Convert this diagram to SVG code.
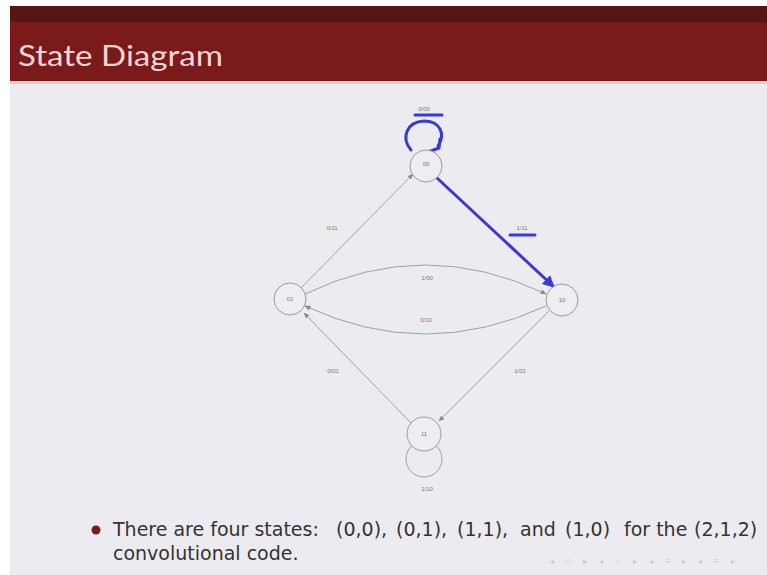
<svg xmlns="http://www.w3.org/2000/svg" width="767" height="575" viewBox="0 0 767 575">
<defs>
<style>
.node{fill:#eeeef2;stroke:#999;stroke-width:1}
.edge{fill:none;stroke:#a0a0a0;stroke-width:1}
.lbl{font-family:"Liberation Sans",Arial,sans-serif;font-size:6px;fill:#777;text-anchor:middle}
.blue{fill:none;stroke:#3a3ad0;stroke-width:3;stroke-linecap:round;stroke-linejoin:round}
.body{font-family:"DejaVu Sans","Liberation Sans",sans-serif;font-size:19px;fill:#333}
</style>
<marker id="ah" viewBox="0 0 10 10" refX="9" refY="5" markerWidth="6" markerHeight="6" orient="auto"><path d="M0,1 L10,5 L0,9 z" fill="#888"/></marker>
<marker id="bh" viewBox="0 0 10 10" refX="8" refY="5" markerWidth="4" markerHeight="4" orient="auto"><path d="M0,0 L10,5 L0,10 z" fill="#3a3ad0"/></marker>
</defs>
<rect width="767" height="575" fill="#ffffff"/>
<rect x="10" y="6" width="757" height="569" fill="#ececf0"/>
<rect x="10" y="6" width="757" height="16" fill="#591414"/>
<rect x="10" y="22" width="757" height="59" fill="#7b1a1b"/>
<rect x="10" y="81" width="757" height="3" fill="#e8c8c8"/>
<text x="18" y="66" font-family="Lato,'Open Sans',sans-serif" font-size="29" fill="#f2d4d4" textLength="205" lengthAdjust="spacingAndGlyphs">State Diagram</text>

<g id="connectors">
<path class="edge" d="M301,288 L413,174" marker-end="url(#ah)"/>
<path class="edge" d="M412,424 L304,313" marker-end="url(#ah)"/>
<path class="edge" d="M549,311 L439,421" marker-end="url(#ah)"/>
<path class="edge" d="M305,294 Q425,236 546,294" marker-end="url(#ah)"/>
<path class="edge" d="M546,306 Q425,362 305,306" marker-end="url(#ah)"/>
<circle class="edge" cx="424" cy="459" r="18"/>
<path class="blue" d="M437,178 L553,286" marker-end="url(#bh)"/>
<path class="blue" d="M411,150 C401,138 406,122 424,121 C440,121 446,134 438,146"/>
<path class="blue" d="M428,152 L439,148 L440,139"/>
<path class="blue" d="M420,172 L432,172"/>
<path class="blue" d="M415,115 L442,115"/>
<path class="blue" d="M510,235 L535,235"/>
</g>

<g id="node00"><circle class="node" cx="426" cy="166" r="16"/><text class="lbl" x="426" y="166">00</text></g>
<g id="node01"><circle class="node" cx="290" cy="299" r="16"/><text class="lbl" x="290" y="301">01</text></g>
<g id="node10"><circle class="node" cx="562" cy="300" r="16"/><text class="lbl" x="562" y="302">10</text></g>
<g id="node11"><circle class="node" cx="424" cy="434" r="17"/><text class="lbl" x="424" y="436">11</text></g>

<g id="labels">
<text class="lbl" x="424" y="111">0/00</text>
<text class="lbl" x="332" y="230">0/11</text>
<text class="lbl" x="522" y="230">1/11</text>
<text class="lbl" x="427" y="280">1/00</text>
<text class="lbl" x="426" y="322">0/10</text>
<text class="lbl" x="333" y="373">0/01</text>
<text class="lbl" x="520" y="373">1/01</text>
<text class="lbl" x="427" y="491">1/10</text>
</g>

<circle cx="96" cy="530" r="4.5" fill="#7b1a1b"/>
<text class="body" y="536"><tspan x="113">There are four states:</tspan><tspan x="336">(0,0),</tspan><tspan x="396">(0,1),</tspan><tspan x="457">(1,1),</tspan><tspan x="520">and</tspan><tspan x="565">(1,0)</tspan><tspan x="624">for the</tspan><tspan x="694">(2,1,2)</tspan></text>
<text class="body" x="113" y="560">convolutional code.</text>
<text x="550" y="564" font-family="'Liberation Sans',sans-serif" font-size="8" fill="#c8c8d4" textLength="185">◂ □ ▸ ◂ ♂ ▸ ◂ ≡ ▸ ◂ ≡ ▸</text>
</svg>
